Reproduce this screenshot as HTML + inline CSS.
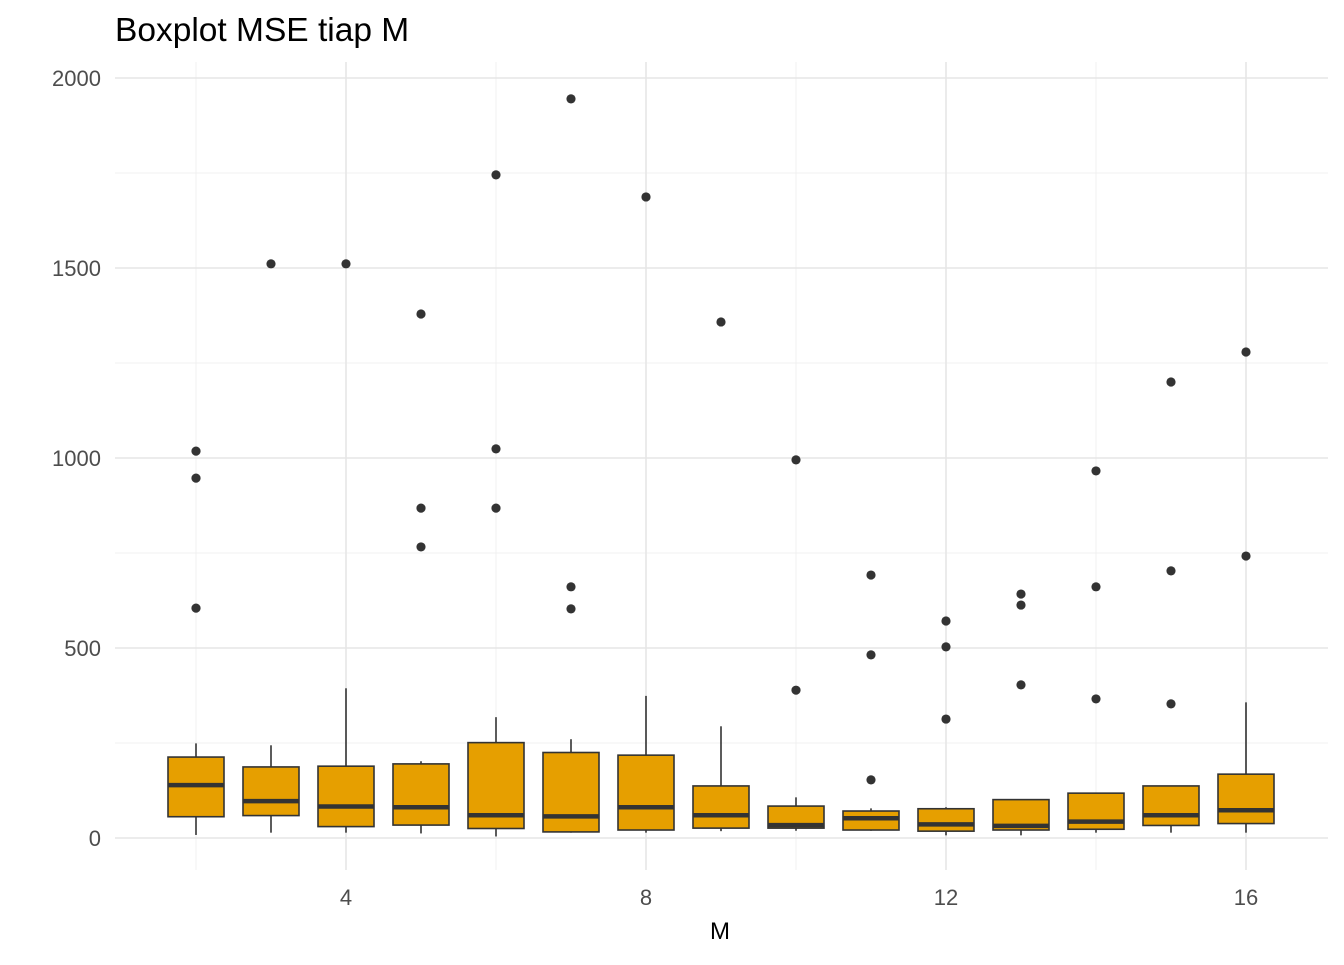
<!DOCTYPE html>
<html><head><meta charset="utf-8"><style>
body{margin:0;background:#fff;}
svg text{font-family:"Liberation Sans",sans-serif;}
</style></head><body>
<svg id="chart" width="1344" height="960" xmlns="http://www.w3.org/2000/svg">
<rect width="1344" height="960" fill="#fff"/>
<text x="115" y="41" font-size="33.5" fill="#000">Boxplot MSE tiap M</text>
<g id="grid"></g><g id="boxes"></g><g id="axes"></g>
<text x="720" y="939" font-size="24" text-anchor="middle" fill="#000">M</text>
</svg>
<script>
const categories=[2,3,4,5,6,7,8,9,10,11,12,13,14,15,16];
const whiskerLow=[8,14,14,12,4,14,14,18,19,19,7,7,14,14,14];
const q1=[56,59,30,34,25,16,21,26,26,21,18,21,23,33,38];
const medians=[139,97,83,81,60,57,81,60,34,52,36,32,43,60,73];
const q3=[213,187,189,195,251,225,218,137,84,71,77,101,118,137,168];
const whiskerHigh=[249,244,394,202,318,260,374,294,107,78,81,101,118,137,357];
const outliers=[[1018,947,605],[1511],[1511],[1379,868,766],[1745,1024,868],[1945,661,603],[1687],[1358],[995,389],[692,482,153],[571,503,313],[642,613,403],[966,661,366],[1200,703,353],[1279,742]];
const yTicks=[0,500,1000,1500,2000];
const yMinor=[250,750,1250,1750];
const xTicks=[4,8,12,16];
const xMinor=[2,6,10,14];

const NS="http://www.w3.org/2000/svg";
const X=m=>196+(m-2)*75;
const Y=v=>838-v*0.38;
const T=62,B=870,L=115,R=1328;
function mk(tag,attrs,parent){const e=document.createElementNS(NS,tag);for(const k in attrs)e.setAttribute(k,attrs[k]);parent.appendChild(e);return e;}
const grid=document.getElementById('grid'),boxes=document.getElementById('boxes'),axes=document.getElementById('axes');
yMinor.forEach(v=>{const e=mk('line',{x1:L,x2:R,y1:Y(v),y2:Y(v),stroke:'#f0f0f0','stroke-width':1},grid);

});
xMinor.forEach(v=>{const e=mk('line',{x1:X(v),x2:X(v),y1:T,y2:B,stroke:'#f0f0f0','stroke-width':1},grid);

});
yTicks.forEach(v=>{const e=mk('line',{x1:L,x2:R,y1:Y(v),y2:Y(v),stroke:'#e6e6e6','stroke-width':1.6},grid);


const t=mk('text',{x:101,y:Y(v)+8,'font-size':22,'text-anchor':'end',fill:'#4d4d4d'},axes);t.textContent=v;

});
xTicks.forEach(v=>{const e=mk('line',{x1:X(v),x2:X(v),y1:T,y2:B,stroke:'#e6e6e6','stroke-width':1.6},grid);


const t=mk('text',{x:X(v),y:905,'font-size':22,'text-anchor':'middle',fill:'#4d4d4d'},axes);t.textContent=v;

});
const hw=28;
categories.forEach((m,i)=>{
 const g=mk('g',{},boxes);
 
 
 const cx=X(m);
 mk('line',{x1:cx,x2:cx,y1:Y(whiskerHigh[i]),y2:Y(q3[i]),stroke:'#333','stroke-width':1.6},g);
 mk('line',{x1:cx,x2:cx,y1:Y(q1[i]),y2:Y(whiskerLow[i]),stroke:'#333','stroke-width':1.6},g);
 mk('rect',{x:cx-hw,y:Y(q3[i]),width:2*hw,height:Y(q1[i])-Y(q3[i]),fill:'#E69F00',stroke:'#333','stroke-width':1.6},g);
 mk('line',{x1:cx-hw,x2:cx+hw,y1:Y(medians[i]),y2:Y(medians[i]),stroke:'#333','stroke-width':4.5},g);
 outliers[i].forEach(v=>{const c=mk('circle',{cx:cx,cy:Y(v),r:4.6,fill:'#333'},g);
 
 });
});
</script>
</body></html>
